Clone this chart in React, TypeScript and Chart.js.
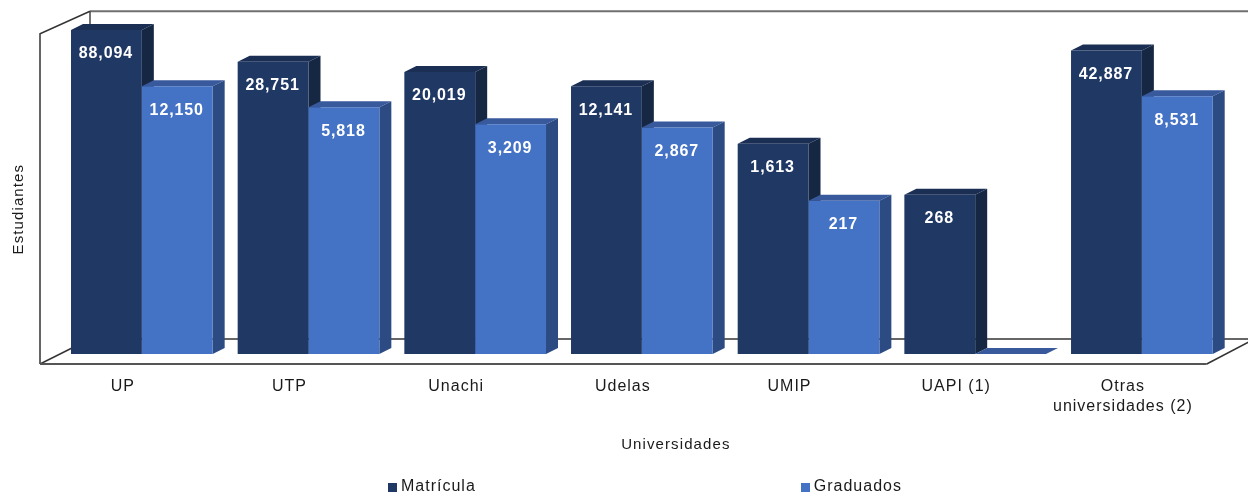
import React, { useEffect, useRef } from "react";
import { Chart, registerables } from "chart.js";

Chart.register(...registerables);

const categories: (string | string[])[] = ["UP", "UTP", "Unachi", "Udelas", "UMIP", "UAPI (1)", ["Otras", "universidades (2)"]];
const matricula = [88094, 28751, 20019, 12141, 1613, 268, 42887];
const graduados = [12150, 5818, 3209, 2867, 217, 0, 8531];

const FONT = "'Liberation Sans', Arial, sans-serif";
const DEPTH_X = 12;
const DEPTH_Y = 6;
const fronts = ["#203864", "#4472c4"];
const faces = [
  { top: "#1b2f54", side: "#162743" },
  { top: "#38599c", side: "#2c4b83" },
];

const poly = (ctx: CanvasRenderingContext2D, pts: number[][], fill: string) => {
  ctx.beginPath();
  pts.forEach(([x, y], i) => (i ? ctx.lineTo(x, y) : ctx.moveTo(x, y)));
  ctx.closePath();
  ctx.fillStyle = fill;
  ctx.fill();
};

const seg = (ctx: CanvasRenderingContext2D, pts: number[][], color: string, w: number) => {
  ctx.beginPath();
  pts.forEach(([x, y], i) => (i ? ctx.lineTo(x, y) : ctx.moveTo(x, y)));
  ctx.strokeStyle = color;
  ctx.lineWidth = w;
  ctx.stroke();
};

const swatch = (color: string) => {
  const c = document.createElement("canvas");
  c.width = 9;
  c.height = 9;
  const g = c.getContext("2d")!;
  g.fillStyle = color;
  g.fillRect(0, 0, 9, 9);
  return c;
};

const plugin3d = {
  id: "bars3d",
  beforeUpdate(chart: any) {
    chart.ctx.letterSpacing = "1px";
  },
  afterLayout(chart: any) {
    // legend and axis titles sit off-centre in the reference
    const lg = chart.legend;
    const w = lg.right - lg.left;
    const pad = lg.options.labels.padding;
    lg.left = 392 - (w + pad - lg.lineWidths[0]) / 2;
    lg.right = lg.left + w;
    lg.top = 479 - pad;
    for (const [id, dx, dy] of [["x", 34, -12], ["y", 6, 19]] as [string, number, number][]) {
      const s = chart.scales[id];
      const orig = s.constructor.prototype.drawTitle;
      s.drawTitle = function () {
        const c = this.ctx;
        c.save();
        c.letterSpacing = "1.1px";
        c.translate(dx, dy);
        orig.call(this);
        c.restore();
      };
    }
  },
  beforeDatasetsDraw(chart: any) {
    const ctx: CanvasRenderingContext2D = chart.ctx;
    const { left, right, top, bottom } = chart.chartArea;
    const fl = left - 18.5, fr = right - 18.5, ft = top + 7.5, fb = bottom + 10;
    const bl = fl + 50, bt = top - 15, bb = bottom - 15;
    ctx.save();
    // back wall
    seg(ctx, [[bl, bb], [chart.width, bb]], "#666666", 2);
    seg(ctx, [[bl, bt], [chart.width, bt]], "#6f6f6f", 2);
    seg(ctx, [[bl, bt], [bl, bb]], "#444444", 1.5);
    // side wall and floor
    seg(ctx, [[fl, fb], [fl, ft], [bl, bt]], "#333333", 1.5);
    seg(ctx, [[fl, fb], [bl, bb]], "#333333", 1.5);
    seg(ctx, [[fl, fb], [fr, fb]], "#555555", 2);
    seg(ctx, [[fr, fb], [fr + 46, fb - 24]], "#333333", 1.5);
    // top and side faces of the bars
    chart.data.datasets.forEach((_: any, di: number) => {
      chart.getDatasetMeta(di).data.forEach((el: any) => {
        const w = el.width / 2;
        const x0 = el.x - w, x1 = el.x + w, y = el.y, b = el.base;
        poly(ctx, [[x0, y], [x0 + DEPTH_X, y - DEPTH_Y], [x1 + DEPTH_X, y - DEPTH_Y], [x1, y]], faces[di].top);
        if (y < b) {
          poly(ctx, [[x1, y], [x1 + DEPTH_X, y - DEPTH_Y], [x1 + DEPTH_X, b - DEPTH_Y], [x1, b]], faces[di].side);
        }
      });
    });
    ctx.restore();
  },
  afterDatasetsDraw(chart: any) {
    const ctx: CanvasRenderingContext2D = chart.ctx;
    ctx.save();
    ctx.font = `bold 16px ${FONT}`;
    ctx.fillStyle = "#ffffff";
    ctx.textAlign = "center";
    ctx.textBaseline = "middle";
    (ctx as any).letterSpacing = "0.9px";
    chart.data.datasets.forEach((ds: any, di: number) => {
      chart.getDatasetMeta(di).data.forEach((el: any, i: number) => {
        const v = ds.data[i];
        if (v) ctx.fillText(v.toLocaleString("en-US"), el.x - 0.5, el.y + 24);
      });
    });
    ctx.restore();
  },
};

export default function App() {
  const ref = useRef<HTMLCanvasElement>(null);
  useEffect(() => {
    const canvas = ref.current!;
    const chart = new Chart(canvas, {
      type: "bar",
      data: {
        labels: categories as any,
        datasets: [
          { label: "Matrícula", data: matricula, backgroundColor: fronts[0] },
          { label: "Graduados", data: graduados, backgroundColor: fronts[1] },
        ],
      },
      options: {
        responsive: false,
        animation: false,
        devicePixelRatio: 1,
        layout: { padding: { left: 0, right: 22.8, top: 26.3, bottom: 0 } },
        datasets: { bar: { barPercentage: 1, categoryPercentage: 0.85 } },
        scales: {
          x: {
            grid: { display: false },
            border: { display: false },
            afterFit: (s: any) => { s.height = 116; },
            ticks: {
              color: "#1a1a1a",
              font: { family: FONT, size: 16, lineHeight: 1.25 },
              labelOffset: -19,
              maxRotation: 0,
              autoSkip: false,
              padding: 15,
            },
            title: {
              display: true,
              text: "Universidades",
              color: "#1a1a1a",
              font: { family: FONT, size: 15 },
            },
          },
          y: {
            type: "logarithmic",
            min: 1,
            max: 100000,
            grid: { display: false },
            border: { display: false },
            afterFit: (s: any) => { s.width = 58.5; },
            ticks: { display: false },
            title: {
              display: true,
              text: "Estudiantes",
              color: "#1a1a1a",
              font: { family: FONT, size: 15 },
            },
          },
        },
        plugins: {
          tooltip: { enabled: false },
          legend: {
            position: "bottom",
            maxHeight: 24,
            labels: {
              usePointStyle: true,
              pointStyleWidth: 1,
              boxHeight: 9,
              padding: 329,
              color: "#1a1a1a",
              font: { family: FONT, size: 16 },
              generateLabels: (c: any) => {
                const items = (Chart.defaults.plugins.legend.labels as any).generateLabels(c);
                items.forEach((it: any, i: number) => { it.pointStyle = swatch(fronts[i]); });
                return items;
              },
            },
          },
        },
      } as any,
      plugins: [plugin3d as any],
    });
    return () => chart.destroy();
  }, []);
  return (
    <div style={{ position: "absolute", left: 0, top: 0 }}>
      <canvas ref={ref} width={1248} height={494} style={{ display: "block" }} />
    </div>
  );
}
